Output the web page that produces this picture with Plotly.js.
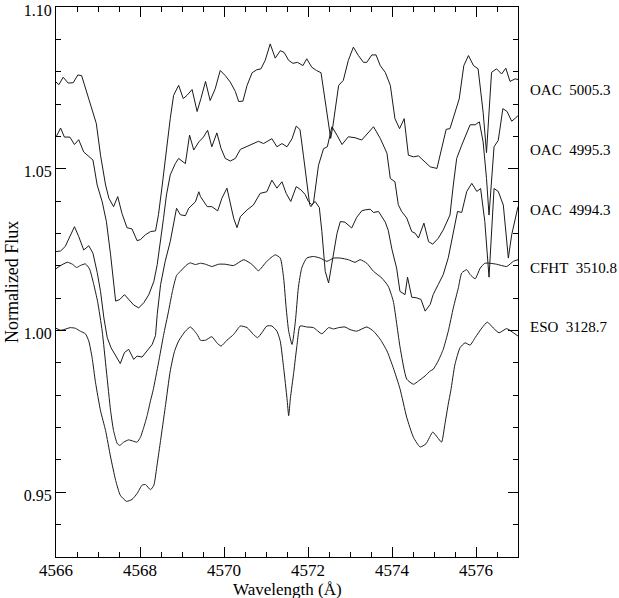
<!DOCTYPE html>
<html>
<head>
<meta charset="utf-8">
<script src="https://cdn.plot.ly/plotly-3.0.1.min.js"></script>
<style>
  body { margin: 0; background: #fff; }
  #spec { width: 619px; height: 598px; }
</style>
</head>
<body>
<div id="spec"></div>
<script>
// wavelengths (A) and normalized flux

// OAC 5005.3
var wlOac5005 = [4566.00, 4566.07, 4566.17, 4566.29, 4566.41, 4566.52, 4566.61, 4566.73, 4566.84, 4566.96,
  4567.06, 4567.18, 4567.26, 4567.37, 4567.47, 4567.57, 4567.69, 4567.81, 4567.93, 4568.01,
  4568.13, 4568.25, 4568.37, 4568.44, 4568.53, 4568.64, 4568.72, 4568.80, 4568.92, 4569.03,
  4569.12, 4569.24, 4569.36, 4569.45, 4569.56, 4569.67, 4569.79, 4569.91, 4570.03, 4570.15,
  4570.27, 4570.35, 4570.45, 4570.55, 4570.67, 4570.78, 4570.88, 4570.98, 4571.10, 4571.22,
  4571.34, 4571.43, 4571.54, 4571.64, 4571.75, 4571.88, 4571.97, 4572.09, 4572.20, 4572.31,
  4572.41, 4572.49, 4572.54, 4572.59, 4572.73, 4572.84, 4572.96, 4573.08, 4573.20, 4573.32,
  4573.40, 4573.52, 4573.62, 4573.72, 4573.84, 4573.96, 4574.07, 4574.18, 4574.29, 4574.39,
  4574.51, 4574.63, 4574.79, 4574.91, 4575.07, 4575.18, 4575.29, 4575.38, 4575.50, 4575.60,
  4575.71, 4575.82, 4575.94, 4576.05, 4576.17, 4576.25, 4576.37, 4576.49, 4576.61, 4576.71,
  4576.81, 4576.93, 4577.00];
var fluxOac5005 = [1.0768, 1.0760, 1.0783, 1.0765, 1.0766, 1.0790, 1.0788, 1.0737, 1.0696, 1.0640,
  1.0542, 1.0450, 1.0409, 1.0383, 1.0414, 1.0362, 1.0318, 1.0314, 1.0278, 1.0281,
  1.0296, 1.0306, 1.0308, 1.0358, 1.0450, 1.0573, 1.0655, 1.0727, 1.0758, 1.0717,
  1.0727, 1.0745, 1.0677, 1.0717, 1.0770, 1.0711, 1.0747, 1.0804, 1.0788, 1.0768,
  1.0739, 1.0708, 1.0709, 1.0758, 1.0797, 1.0806, 1.0809, 1.0835, 1.0886, 1.0842,
  1.0865, 1.0860, 1.0835, 1.0826, 1.0829, 1.0819, 1.0840, 1.0814, 1.0804, 1.0797,
  1.0706, 1.0624, 1.0594, 1.0630, 1.0758, 1.0773, 1.0835, 1.0876, 1.0850, 1.0829,
  1.0829, 1.0852, 1.0852, 1.0819, 1.0798, 1.0758, 1.0655, 1.0624, 1.0655, 1.0542,
  1.0537, 1.0540, 1.0521, 1.0506, 1.0501, 1.0563, 1.0622, 1.0624, 1.0672, 1.0716,
  1.0819, 1.0850, 1.0819, 1.0809, 1.0675, 1.0550, 1.0798, 1.0809, 1.0793, 1.0811,
  1.0770, 1.0778, 1.0776];

// OAC 4995.3
var wlOac4995 = [4566.00, 4566.11, 4566.20, 4566.33, 4566.44, 4566.54, 4566.66, 4566.76, 4566.88, 4566.98,
  4567.10, 4567.20, 4567.30, 4567.42, 4567.52, 4567.63, 4567.76, 4567.85, 4567.97, 4568.09,
  4568.21, 4568.33, 4568.41, 4568.49, 4568.56, 4568.63, 4568.72, 4568.84, 4568.92, 4569.08,
  4569.18, 4569.28, 4569.40, 4569.51, 4569.61, 4569.71, 4569.83, 4569.93, 4570.03, 4570.15,
  4570.27, 4570.39, 4570.55, 4570.70, 4570.82, 4570.94, 4571.14, 4571.26, 4571.38, 4571.50,
  4571.62, 4571.72, 4571.81, 4571.89, 4571.97, 4572.04, 4572.07, 4572.13, 4572.25, 4572.37,
  4572.46, 4572.57, 4572.69, 4572.81, 4572.96, 4573.12, 4573.28, 4573.40, 4573.56, 4573.72,
  4573.88, 4573.96, 4574.07, 4574.15, 4574.23, 4574.35, 4574.47, 4574.55, 4574.63, 4574.76,
  4574.87, 4574.97, 4575.10, 4575.22, 4575.38, 4575.46, 4575.54, 4575.66, 4575.78, 4575.86,
  4575.98, 4576.08, 4576.17, 4576.25, 4576.31, 4576.37, 4576.43, 4576.53, 4576.64, 4576.74,
  4576.85, 4576.97, 4577.00];
var fluxOac4995 = [1.0598, 1.0626, 1.0598, 1.0598, 1.0575, 1.0590, 1.0552, 1.0540, 1.0527, 1.0450,
  1.0398, 1.0337, 1.0234, 1.0091, 1.0096, 1.0111, 1.0091, 1.0079, 1.0070, 1.0086,
  1.0111, 1.0152, 1.0204, 1.0275, 1.0347, 1.0419, 1.0481, 1.0516, 1.0532, 1.0516,
  1.0604, 1.0558, 1.0583, 1.0598, 1.0619, 1.0568, 1.0611, 1.0563, 1.0532, 1.0524,
  1.0532, 1.0560, 1.0570, 1.0578, 1.0585, 1.0578, 1.0593, 1.0568, 1.0578, 1.0568,
  1.0593, 1.0632, 1.0621, 1.0542, 1.0460, 1.0389, 1.0383, 1.0394, 1.0511, 1.0562,
  1.0568, 1.0630, 1.0604, 1.0575, 1.0599, 1.0596, 1.0589, 1.0606, 1.0630, 1.0594,
  1.0548, 1.0470, 1.0460, 1.0389, 1.0368, 1.0348, 1.0306, 1.0301, 1.0286, 1.0332,
  1.0275, 1.0267, 1.0285, 1.0311, 1.0357, 1.0450, 1.0532, 1.0573, 1.0614, 1.0636,
  1.0636, 1.0645, 1.0583, 1.0470, 1.0357, 1.0470, 1.0568, 1.0588, 1.0686, 1.0677,
  1.0647, 1.0660, 1.0665];

// OAC 4994.3
var wlOac4994 = [4566.00, 4566.11, 4566.22, 4566.34, 4566.44, 4566.54, 4566.66, 4566.78, 4566.88, 4566.98,
  4567.06, 4567.14, 4567.22, 4567.31, 4567.42, 4567.53, 4567.63, 4567.73, 4567.85, 4567.93,
  4568.05, 4568.17, 4568.29, 4568.37, 4568.41, 4568.49, 4568.60, 4568.72, 4568.80, 4568.87,
  4568.96, 4569.08, 4569.16, 4569.24, 4569.32, 4569.40, 4569.44, 4569.60, 4569.71, 4569.85,
  4569.95, 4570.07, 4570.13, 4570.23, 4570.31, 4570.39, 4570.55, 4570.70, 4570.86, 4571.02,
  4571.14, 4571.26, 4571.38, 4571.48, 4571.59, 4571.72, 4571.83, 4571.93, 4572.01, 4572.09,
  4572.17, 4572.27, 4572.33, 4572.41, 4572.49, 4572.57, 4572.69, 4572.77, 4572.88, 4573.04,
  4573.16, 4573.28, 4573.36, 4573.48, 4573.56, 4573.68, 4573.76, 4573.84, 4573.91, 4574.00,
  4574.11, 4574.19, 4574.31, 4574.37, 4574.47, 4574.59, 4574.69, 4574.79, 4574.91, 4574.98,
  4575.10, 4575.22, 4575.34, 4575.46, 4575.56, 4575.66, 4575.78, 4575.90, 4576.02, 4576.11,
  4576.21, 4576.31, 4576.43, 4576.53, 4576.65, 4576.77, 4576.85, 4577.00];
var fluxOac4994 = [1.0244, 1.0246, 1.0260, 1.0296, 1.0321, 1.0291, 1.0249, 1.0262, 1.0239, 1.0180,
  1.0121, 1.0039, 0.9978, 0.9947, 0.9921, 0.9898, 0.9932, 0.9942, 0.9911, 0.9921,
  0.9918, 0.9937, 0.9957, 0.9985, 1.0050, 1.0142, 1.0214, 1.0275, 1.0327, 1.0378,
  1.0358, 1.0355, 1.0378, 1.0388, 1.0398, 1.0429, 1.0414, 1.0383, 1.0383, 1.0370,
  1.0409, 1.0440, 1.0404, 1.0347, 1.0318, 1.0352, 1.0373, 1.0388, 1.0424, 1.0429,
  1.0465, 1.0440, 1.0460, 1.0424, 1.0399, 1.0445, 1.0435, 1.0421, 1.0399, 1.0389,
  1.0399, 1.0380, 1.0306, 1.0183, 1.0147, 1.0204, 1.0300, 1.0337, 1.0335, 1.0317,
  1.0350, 1.0370, 1.0373, 1.0375, 1.0365, 1.0368, 1.0352, 1.0335, 1.0310, 1.0250,
  1.0193, 1.0121, 1.0111, 1.0165, 1.0103, 1.0101, 1.0096, 1.0060, 1.0081, 1.0111,
  1.0142, 1.0173, 1.0225, 1.0306, 1.0368, 1.0365, 1.0430, 1.0455, 1.0430, 1.0439,
  1.0337, 1.0165, 1.0439, 1.0430, 1.0388, 1.0224, 1.0296, 1.0383];

// CFHT 3510.8
var wlCfht = [4566.00, 4566.11, 4566.27, 4566.39, 4566.49, 4566.58, 4566.70, 4566.80, 4566.90, 4566.99,
  4567.10, 4567.20, 4567.30, 4567.37, 4567.46, 4567.52, 4567.61, 4567.73, 4567.84, 4567.93,
  4568.01, 4568.09, 4568.17, 4568.25, 4568.31, 4568.44, 4568.56, 4568.68, 4568.77, 4568.87,
  4568.96, 4569.12, 4569.20, 4569.32, 4569.44, 4569.56, 4569.71, 4569.87, 4570.03, 4570.23,
  4570.47, 4570.67, 4570.82, 4571.02, 4571.22, 4571.34, 4571.42, 4571.48, 4571.54, 4571.62,
  4571.70, 4571.77, 4571.85, 4571.97, 4572.13, 4572.29, 4572.45, 4572.61, 4572.77, 4572.96,
  4573.12, 4573.24, 4573.40, 4573.56, 4573.76, 4573.91, 4574.03, 4574.19, 4574.35, 4574.51,
  4574.63, 4574.79, 4574.91, 4574.98, 4575.10, 4575.22, 4575.34, 4575.46, 4575.58, 4575.66,
  4575.78, 4575.86, 4575.98, 4576.10, 4576.21, 4576.33, 4576.49, 4576.73, 4576.89, 4577.00];
var fluxCfht = [1.0191, 1.0201, 1.0211, 1.0205, 1.0195, 1.0201, 1.0206, 1.0190, 1.0142, 1.0090,
  0.9998, 0.9875, 0.9752, 0.9691, 0.9650, 0.9645, 0.9655, 0.9662, 0.9658, 0.9655,
  0.9670, 0.9701, 0.9737, 0.9783, 0.9814, 0.9900, 0.9985, 1.0060, 1.0120, 1.0170,
  1.0183, 1.0204, 1.0209, 1.0204, 1.0208, 1.0205, 1.0198, 1.0205, 1.0205, 1.0201,
  1.0219, 1.0204, 1.0185, 1.0214, 1.0234, 1.0224, 1.0162, 1.0070, 0.9998, 0.9957,
  1.0029, 1.0132, 1.0193, 1.0224, 1.0229, 1.0224, 1.0214, 1.0224, 1.0224, 1.0219,
  1.0211, 1.0219, 1.0208, 1.0183, 1.0162, 1.0137, 1.0091, 0.9950, 0.9850, 0.9834,
  0.9844, 0.9860, 0.9875, 0.9880, 0.9906, 0.9942, 0.9998, 1.0070, 1.0132, 1.0178,
  1.0188, 1.0173, 1.0160, 1.0193, 1.0208, 1.0208, 1.0205, 1.0198, 1.0214, 1.0219];

// ESO 3128.7
var wlEso = [4566.00, 4566.11, 4566.19, 4566.34, 4566.46, 4566.58, 4566.70, 4566.78, 4566.86, 4566.94,
  4567.06, 4567.18, 4567.30, 4567.42, 4567.53, 4567.68, 4567.81, 4567.93, 4568.05, 4568.13,
  4568.25, 4568.33, 4568.41, 4568.49, 4568.60, 4568.72, 4568.82, 4568.92, 4569.08, 4569.20,
  4569.36, 4569.44, 4569.56, 4569.71, 4569.83, 4569.93, 4570.07, 4570.23, 4570.39, 4570.55,
  4570.70, 4570.80, 4570.90, 4571.02, 4571.14, 4571.26, 4571.34, 4571.42, 4571.50, 4571.54,
  4571.58, 4571.66, 4571.74, 4571.81, 4571.97, 4572.13, 4572.33, 4572.49, 4572.61, 4572.73,
  4572.88, 4573.00, 4573.16, 4573.40, 4573.56, 4573.72, 4573.88, 4574.03, 4574.19, 4574.35,
  4574.51, 4574.67, 4574.81, 4574.97, 4575.08, 4575.18, 4575.26, 4575.34, 4575.40, 4575.50,
  4575.62, 4575.74, 4575.86, 4575.98, 4576.14, 4576.27, 4576.41, 4576.55, 4576.73, 4576.89,
  4577.00];
var fluxEso = [1.0007, 1.0001, 1.0003, 1.0009, 1.0007, 0.9998, 0.9990, 0.9968, 0.9916, 0.9840,
  0.9752, 0.9691, 0.9609, 0.9537, 0.9491, 0.9472, 0.9478, 0.9496, 0.9522, 0.9524,
  0.9508, 0.9522, 0.9588, 0.9660, 0.9762, 0.9875, 0.9935, 0.9968, 0.9998, 1.0011,
  0.9988, 0.9970, 0.9970, 0.9981, 0.9962, 0.9952, 0.9970, 0.9988, 1.0014, 1.0009,
  0.9988, 0.9978, 0.9993, 1.0014, 1.0014, 0.9998, 0.9967, 0.9885, 0.9790, 0.9737,
  0.9790, 0.9870, 0.9957, 1.0014, 1.0011, 1.0009, 0.9990, 1.0009, 1.0005, 1.0009,
  1.0011, 1.0003, 0.9998, 1.0011, 0.9998, 0.9973, 0.9937, 0.9885, 0.9820, 0.9732,
  0.9670, 0.9640, 0.9650, 0.9686, 0.9670, 0.9655, 0.9711, 0.9773, 0.9814, 0.9896,
  0.9947, 0.9962, 0.9955, 0.9978, 1.0008, 1.0026, 1.0008, 0.9993, 1.0006, 0.9993,
  0.9983];

var spectrumNames = ["OAC\u00a0\u00a05005.3", "OAC\u00a0\u00a04995.3", "OAC\u00a0\u00a04994.3",
  "CFHT\u00a0\u00a03510.8", "ESO\u00a0\u00a03128.7"];
var yTicks = [0.95, 1.00, 1.05, 1.10];
var xTicks = [4566, 4568, 4570, 4572, 4574, 4576];

var ink = "#1a1a1a";
var serif = "Liberation Serif";

function spectrum(x, y, smooth) {
  return {
    x: x, y: y, type: "scatter", mode: "lines",
    line: { color: ink, width: 1, shape: smooth ? "spline" : "linear", smoothing: 0.5 },
    hoverinfo: "skip"
  };
}

var data = [
  spectrum(wlOac5005, fluxOac5005, false),
  spectrum(wlOac4995, fluxOac4995, false),
  spectrum(wlOac4994, fluxOac4994, false),
  spectrum(wlCfht, fluxCfht, true),
  spectrum(wlEso, fluxEso, true)
];

// label heights beside the right axis
var labelY = [1.0743, 1.0558, 1.0374, 1.0192, 1.0011];
var notes = spectrumNames.map(function (name, i) {
  return {
    text: name, xref: "paper", yref: "y", x: 1.021, y: labelY[i],
    xanchor: "left", yanchor: "middle", showarrow: false,
    font: { family: serif, size: 15, color: "#000" }
  };
});

// axis titles placed as annotations so they sit where the original has them
notes.push({
  text: "Wavelength (Å)", xref: "paper", yref: "paper", x: 0.5, y: -0.059,
  xanchor: "center", yanchor: "middle", showarrow: false,
  font: { family: serif, size: 17, color: "#000" }
});
notes.push({
  text: "Normalized Flux", xref: "paper", yref: "paper", x: -0.095, y: 0.5,
  xanchor: "center", yanchor: "middle", textangle: -90, showarrow: false,
  font: { family: serif, size: 18, color: "#000" }
});

var axisCommon = {
  showline: true, linecolor: "#000", linewidth: 1, mirror: "ticks",
  ticks: "inside", ticklen: 10, tickwidth: 1, tickcolor: "#000",
  tickfont: { family: serif, size: 17, color: "#000" },
  ticklabeloverflow: "allow",
  showgrid: false, zeroline: false, fixedrange: true
};

var layout = {
  width: 619, height: 598,
  margin: { l: 56, r: 101, t: 7, b: 41 },
  paper_bgcolor: "#fff", plot_bgcolor: "#fff",
  showlegend: false,
  font: { family: serif, size: 15, color: "#000" },
  xaxis: Object.assign({}, axisCommon, {
    range: [4566, 4577], tickmode: "array", tickvals: xTicks,
    ticklabelstandoff: -2,
    minor: { dtick: 0.5, tick0: 4566, ticks: "inside", ticklen: 5, tickcolor: "#000" }
  }),
  yaxis: Object.assign({}, axisCommon, {
    range: [0.93, 1.10001], tickmode: "array", tickvals: yTicks, tickformat: ".2f",
    tickfont: { family: serif, size: 16, color: "#000" },
    ticklabelshift: 3,
    minor: { dtick: 0.01, tick0: 0.93, ticks: "inside", ticklen: 5, tickcolor: "#000" }
  }),
  annotations: notes
};

Plotly.newPlot("spec", data, layout, { displayModeBar: false, staticPlot: true });
</script>
</body>
</html>
